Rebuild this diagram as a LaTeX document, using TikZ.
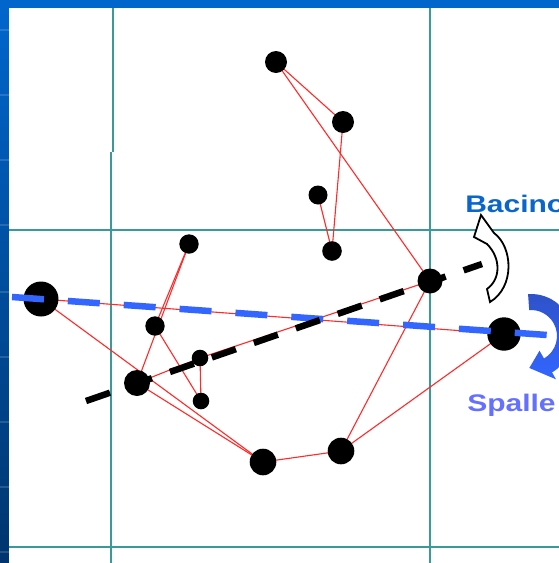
\documentclass[tikz,border=0pt]{standalone}
\usepackage{fontspec}
\setmainfont{Liberation Sans}
\usetikzlibrary{calc,backgrounds}
\definecolor{slideblue}{HTML}{0066CC}
\definecolor{slidedark}{HTML}{00356E}
\definecolor{gridteal}{HTML}{3A9A9A}
\definecolor{linkred}{HTML}{FF2A2A}
\definecolor{axisblue}{HTML}{3366FF}
\definecolor{bacinoblue}{HTML}{0A66CC}
\definecolor{spalleblue}{HTML}{6470FF}
\definecolor{turndark}{HTML}{2E52C8}

\begin{document}
\begin{tikzpicture}[x=1pt,y=-1pt,
    dot/.style={circle,fill=black,inner sep=0pt},
    link/.style={linkred,line width=1.1pt},
    gridline/.style={gridteal,line width=1.7pt},
    axisline/.style={line width=6.5pt},
    tag/.style={font=\bfseries\fontsize{24}{28}\selectfont,inner sep=0pt,xscale=1.25}]
    \path[use as bounding box,clip] (0,0) rectangle (559,563);
    \foreach \n/\x/\y/\r in {
      1/276/62/11, 2/343/122/11, 3/318/195/9.5, 4/332/251/9.8,
      5/189/244/9.7, 6/41/299/17.5, 7/155/326/9.7, 8/200/358/8.3,
      9/137/383/13, 10/201/401/8.3, 11/263/462/13.3, 12/341/451/13.3,
      13/430/281/12.5, 14/504/334/16.7
    } {
      \node[dot,minimum size=\r*2pt] (p\n) at (\x,\y) {};
    }
    \begin{scope}[on background layer]
      \fill[slideblue] (0,0) rectangle (559,563);
      \shade[top color=slideblue,bottom color=slidedark] (0,8) rectangle (9,563);
      \foreach \y in {30,95,160,225,292,357,422,487,552}
        \draw[white,opacity=0.15,line width=1.5pt] (0,\y) -- (9,\y);
      \fill[white] (9,8) rectangle (559,563);
      \draw[gridline] (113,8) -- (113,152);
      \draw[gridline] (111,152) -- (111,563);
      \draw[gridline] (430,8) -- (430,563);
      \draw[gridline] (9,230) -- (559,230);
      \draw[gridline] (9,547) -- (559,547);
      \foreach \a/\b in {1/2,1/13,2/4,3/4,5/7,5/9,7/10,6/11,9/11,9/8,8/13,8/10,11/12,12/13,12/14,6/14}
        \draw[link] (p\a.center) -- (p\b.center);
    \end{scope}
    \coordinate (shoulderL) at (12,297);
    \coordinate (shoulderR) at (547,335);
    \coordinate (pelvisL) at (86,401);
    \coordinate (pelvisR) at (482,264);
    \draw[axisline,axisblue,dash pattern=on 32pt off 24pt] (shoulderL) -- (shoulderR);
    \draw[axisline,black,dash pattern=on 25.4pt off 19pt] (pelvisL) -- (pelvisR);
    \draw[line width=1.8pt,fill=white,line join=miter]
      (481,215) -- (474,237) -- (487,244) .. controls (501,258) and (501,279) .. (487,289)
      -- (490,302) .. controls (515,287) and (513,247) .. (494,233) -- cycle;
    \coordinate (turn) at (531,336);
    \shade[top color=turndark,bottom color=axisblue]
      ($(turn)+(-94:42)$) arc[start angle=-94,end angle=60,radius=42]
      -- ($(turn)+(60:50)$) -- ($(turn)+(93:32)$) -- ($(turn)+(60:17)$)
      -- ($(turn)+(60:26)$) arc[start angle=60,end angle=-94,radius=26] -- cycle;
    \node[tag,text=bacinoblue,anchor=base west] (bacino) at (465,212) {Bacino};
    \node[tag,text=spalleblue,anchor=base west] (spalle) at (467,411) {Spalle};
  \end{tikzpicture}
\end{document}
